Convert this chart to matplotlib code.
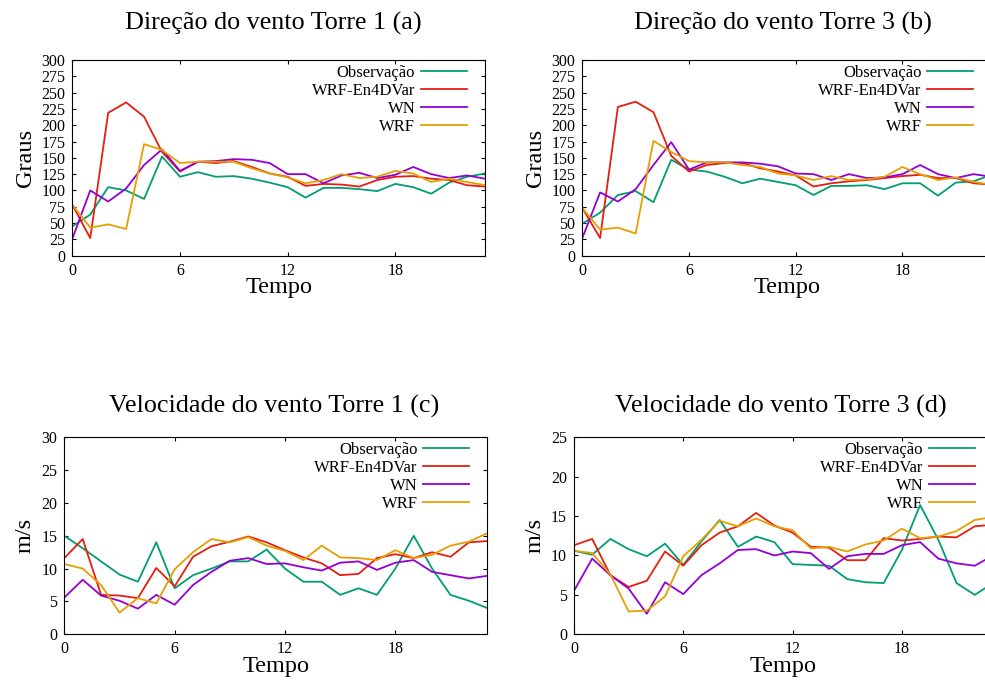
import numpy as np
import matplotlib
matplotlib.use("Agg")
from matplotlib import pyplot as plt

plt.rcParams['font.family'] = ['Liberation Serif', 'DejaVu Serif']

# hours 0..23
tempo = list(range(24))
nomes = ["Observação", "WRF-En4DVar", "WN", "WRF"]
cores = ["#009e73", "#e51e10", "#9400d3", "#e69f00"]

# direcao do vento, torre 1 (a)
dir1_obs = [45, 63, 105, 100, 87, 152, 121, 128, 121, 122, 118, 112, 105, 89, 104, 104, 102, 99, 110, 105, 95, 112, 121, 126]
dir1_en4d = [78, 27, 219, 235, 213, 159, 129, 144, 142, 145, 136, 126, 121, 107, 110, 109, 106, 116, 121, 122, 118, 116, 108, 106]
dir1_wn = [26, 100, 83, 103, 139, 163, 130, 144, 145, 148, 147, 142, 125, 125, 111, 123, 127, 119, 124, 136, 125, 119, 123, 118]
dir1_wrf = [78, 43, 48, 41, 171, 162, 142, 144, 144, 144, 134, 126, 120, 111, 116, 125, 119, 121, 130, 126, 113, 118, 113, 108]

# direcao do vento, torre 3 (b)
dir3_obs = [49, 66, 93, 99, 82, 147, 132, 129, 121, 111, 118, 113, 108, 93, 107, 107, 108, 102, 111, 111, 92, 112, 114, 124]
dir3_en4d = [73, 27, 228, 236, 220, 153, 129, 139, 142, 142, 134, 129, 123, 106, 111, 114, 116, 119, 122, 124, 119, 119, 111, 109]
dir3_wn = [27, 97, 83, 102, 139, 174, 132, 143, 143, 143, 141, 137, 126, 125, 116, 125, 119, 120, 125, 139, 125, 119, 125, 121]
dir3_wrf = [73, 40, 43, 34, 176, 159, 145, 143, 143, 139, 136, 126, 123, 116, 122, 116, 117, 121, 136, 125, 116, 120, 113, 109]

# velocidade do vento, torre 1 (c)
vel1_obs = [15.0, 13.1, 11.1, 9.1, 8.0, 14.0, 7.0, 9.0, 10.0, 11.1, 11.1, 12.9, 10.0, 8.0, 8.0, 6.0, 7.0, 6.0, 10.0, 15.0, 10.0, 6.0, 5.1, 4.0]
vel1_en4d = [11.6, 14.5, 6.0, 5.9, 5.5, 10.1, 7.3, 11.8, 13.4, 14.1, 14.9, 14.0, 12.8, 11.7, 10.8, 9.0, 9.2, 11.6, 12.2, 11.6, 12.5, 11.8, 14.0, 14.2]
vel1_wn = [5.6, 8.3, 5.9, 5.1, 3.9, 6.0, 4.5, 7.5, 9.5, 11.2, 11.6, 10.7, 10.8, 10.2, 9.7, 10.9, 11.1, 9.8, 10.9, 11.3, 9.5, 9.0, 8.5, 8.9]
vel1_wrf = [10.7, 10.0, 7.5, 3.3, 5.5, 4.7, 9.9, 12.5, 14.5, 14.0, 14.8, 13.5, 12.7, 11.3, 13.5, 11.7, 11.6, 11.3, 12.8, 11.6, 12.1, 13.5, 14.1, 15.4]

# velocidade do vento, torre 3 (d)
vel3_obs = [10.6, 10.1, 12.1, 10.8, 9.9, 11.5, 8.8, 11.8, 14.5, 11.1, 12.4, 11.7, 8.9, 8.8, 8.7, 7.0, 6.6, 6.5, 10.7, 16.4, 12.0, 6.5, 5.0, 6.5]
vel3_en4d = [11.3, 12.1, 7.5, 6.0, 6.8, 10.5, 8.7, 11.3, 12.9, 13.7, 15.4, 13.8, 12.9, 11.1, 11.0, 9.4, 9.4, 12.2, 11.9, 12.1, 12.4, 12.3, 13.7, 13.9]
vel3_wn = [5.5, 9.6, 7.5, 5.8, 2.6, 6.6, 5.1, 7.5, 9.0, 10.7, 10.8, 10.0, 10.5, 10.3, 8.3, 9.9, 10.2, 10.2, 11.3, 11.7, 9.6, 9.0, 8.7, 10.0]
vel3_wrf = [10.6, 10.3, 7.6, 2.9, 3.0, 4.8, 9.9, 12.0, 14.4, 13.7, 14.7, 13.7, 13.2, 10.9, 11.1, 10.5, 11.4, 11.9, 13.4, 12.2, 12.4, 13.1, 14.5, 14.9]

# axes rect, title, ylabel, series, ymax, ystep, title pad, title x
paineis = [
    ([0.0734, 0.6262, 0.4190, 0.2861], "Direção do vento Torre 1 (a)", "Graus",
     [dir1_obs, dir1_en4d, dir1_wn, dir1_wrf], 300, 25, 22, 0.488),
    ([0.5912, 0.6262, 0.4152, 0.2861], "Direção do vento Torre 3 (b)", "Graus",
     [dir3_obs, dir3_en4d, dir3_wn, dir3_wrf], 300, 25, 22, 0.49),
    ([0.0653, 0.0727, 0.4294, 0.2880], "Velocidade do vento Torre 1 (c)", "m/s",
     [vel1_obs, vel1_en4d, vel1_wn, vel1_wrf], 30, 5, 18, 0.495),
    ([0.5827, 0.0727, 0.4254, 0.2880], "Velocidade do vento Torre 3 (d)", "m/s",
     [vel3_obs, vel3_en4d, vel3_wn, vel3_wrf], 25, 5, 18, 0.494),
]

fig = plt.figure(figsize=(9.85, 6.84), dpi=100)

for pos, titulo, ylab, series, ymax, ystep, tpad, tx in paineis:
    ax = fig.add_axes(pos)
    for s, nome, cor in zip(series, nomes, cores):
        ax.plot(tempo, s, color=cor, lw=1.3, label=nome)
    ax.set_xlim(0, 23)
    ax.set_ylim(0, ymax)
    ax.set_xticks([0, 6, 12, 18])
    ax.set_yticks(np.arange(0, ymax + 1, ystep))
    ax.tick_params(direction='in', top=True, right=True, length=3, width=0.8,
                   labelsize=11.5, pad=5)
    for sp in ax.spines.values():
        sp.set_linewidth(0.8)
    ax.set_title(titulo, fontsize=18.8, pad=tpad, x=tx)
    ax.set_xlabel("Tempo", fontsize=17.5, labelpad=-1)
    ax.set_ylabel(ylab, fontsize=17.5, labelpad=4)
    # legend: text right aligned, line sample on the right
    axw = pos[2] * 985
    axh = pos[3] * 684
    ax.legend(loc='upper right', markerfirst=False, frameon=False, fontsize=12,
              handlelength=2.75, handletextpad=0.35, labelspacing=0.12,
              borderpad=0, borderaxespad=0,
              bbox_to_anchor=(1 - 18 / axw, 1 - 5 / axh))

fig.savefig("out.png", dpi=100)
